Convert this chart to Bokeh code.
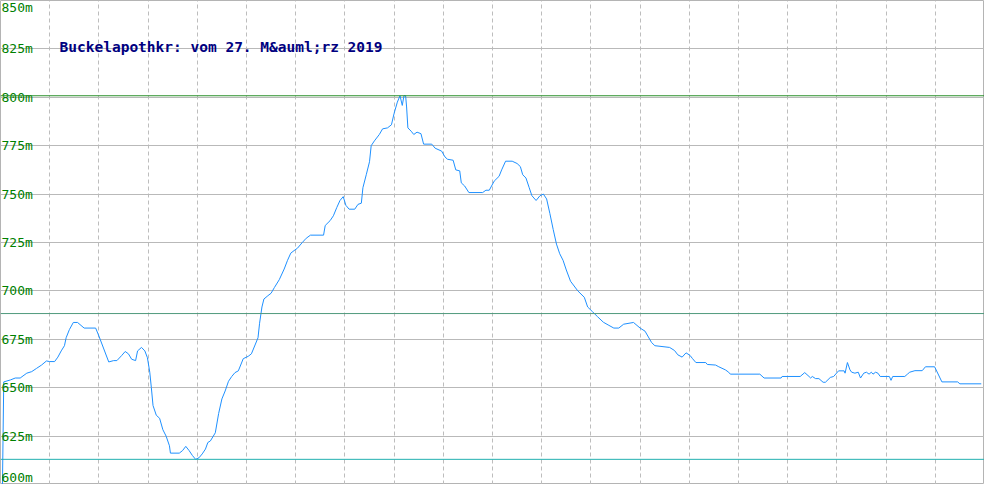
from bokeh.plotting import figure
from bokeh.models import Span, FixedTicker, Label, ColumnDataSource
from bokeh.core.properties import value
from bokeh.embed import file_html
from bokeh.resources import INLINE

# ---- data ----
title_text = "Buckelapothkr: vom 27. M&auml;rz 2019"

distance = [2, 3.3, 10, 15, 20, 26.7, 31.7, 36.7, 41.7, 46.7, 50, 55, 58.3, 61.7, 65, 66.7, 70, 74, 78.3,
            85, 96.7, 100, 105, 110, 115, 118.3, 123.3, 126.7, 130, 133.3, 137.3, 139.3, 143.3, 146.7,
            149.3, 151.7, 153.3, 155, 158.3, 161.7, 165, 168.3, 171.7, 172.7, 181.7, 185, 188.3, 191.7,
            195, 198.3, 201.7, 205, 208.3, 210.7, 213.3, 218.3, 221.7, 225, 228.3, 231.7, 235, 238.3,
            241.7, 246.7, 251.7, 255, 261.7, 263.3, 265.7, 267.7, 271.7, 275, 278.3, 283.3, 288.3, 291.7,
            295, 298.3, 301.7, 306.7, 310.7, 315, 328.3, 330, 335, 338.3, 341.7, 345, 348.3, 351, 354.3,
            360, 363.3, 366.7, 368.3, 371.7, 375, 376.7, 380, 385, 388.3, 393.3, 397.3, 400, 403.3, 406,
            408.3, 410, 411.7, 412.7, 414, 417.3, 420, 423.3, 427.3, 430, 438.3, 441.7, 448.3, 451.7,
            454.3, 460, 462.7, 466.7, 468.3, 471.7, 476, 490, 493.3, 496.7, 501.7, 506.7, 509.3, 513.3,
            520, 525, 528.3, 530.7, 534, 537.3, 540, 544.3, 548.3, 551.7, 555, 558.3, 561.7, 565, 568.3,
            571.7, 575, 579.3, 586.7, 593.3, 596.7, 601.7, 606.7, 612.7, 618.3, 623.3, 628.3, 633.3,
            643.3, 650, 655, 661.7, 665, 680, 685, 688.3, 692.7, 696.7, 700.7, 703.3, 706.7, 716.7,
            718.3, 726.7, 730, 736.7, 740, 741.7, 771.7, 776, 793.3, 794.3, 812.7, 817.3, 821.7, 823.3,
            825, 828.3, 831.7, 836, 838.3, 843.3, 846.7, 851.7, 857.3, 858.3, 860.7, 863.3, 865, 868.3,
            871.7, 874, 877.3, 880, 882.7, 885, 886.7, 889.3, 891.7, 894, 903.3, 905, 906.7, 919, 921.7,
            924, 929.3, 936.7, 940, 949.3, 956.7, 972.7, 975, 996.7]

elevation = [600, 653, 654, 655, 655, 657.5, 658.3, 660, 661.7, 663.8, 663.5, 663.5, 665.8, 669, 671.7,
             675.8, 680, 683.7, 683.7, 680.8, 680.8, 676.7, 670, 663.3, 664, 664, 666.7, 668.7, 667.5,
             664.7, 664, 669, 670.8, 669, 665.5, 658, 650, 640.8, 635.8, 634.2, 628.3, 625, 620, 616.2,
             616.2, 617.5, 619.7, 617.5, 615, 613, 613.8, 615.8, 618.3, 621.7, 622.5, 626.7, 636.7,
             644.2, 648.3, 653.3, 655.8, 657.8, 658.7, 665, 666.2, 667.5, 675.8, 683.3, 691.7, 695.8,
             697.5, 698.8, 701.7, 705.8, 711.3, 715.8, 719.5, 720.8, 722, 725, 727.2, 728.8, 728.8,
             733.8, 736.3, 738.8, 743, 746.7, 748.7, 744.2, 742.2, 742.2, 744.7, 745.3, 753.3, 760,
             766.7, 775, 777.5, 780.8, 783.7, 784.2, 785.8, 791.7, 797.5, 800.8, 795.8, 800.8, 800.8,
             795, 784.2, 782.5, 780.8, 782, 781.2, 775.8, 775.8, 773.7, 772.2, 769.2, 768, 767.5, 762.5,
             762, 755.8, 754.2, 750.8, 750.8, 752, 752, 756.7, 759.2, 762.5, 767, 767, 765.8, 764.2, 760,
             758.3, 753.3, 749.2, 746.7, 749.2, 750, 747.5, 740, 731.7, 724.2, 719.2, 715.8, 710.8, 705,
             700, 696.7, 691.7, 689.2, 686.7, 683.8, 682.2, 680.8, 680.8, 682.8, 683.7, 680.8, 679.2,
             673.3, 671.7, 670.8, 669.2, 667, 665.8, 668, 666.7, 665, 663, 663, 662, 661.7, 660.8, 659.2,
             658, 657, 657, 655, 655, 655.8, 655.8, 657.8, 655.8, 655, 655.8, 654.7, 654.7, 652.8, 652.8,
             655.3, 655.8, 658.7, 658.7, 657.5, 663, 659.2, 658, 657.5, 658, 655, 657.5, 658, 657, 658,
             657, 658, 657.5, 655.8, 655.8, 653.8, 655.8, 655.8, 657, 658, 658.8, 658.8, 660.8, 660.8,
             653, 653, 652, 652]

max_elev = 800.8
avg_elev = 688.3
min_elev = 613.0

y_ticks = [600, 625, 650, 675, 700, 725, 750, 775, 800, 825, 850]
y_tick_labels = [f"{t}m" for t in y_ticks]
x_grid_ticks = [50, 100, 150, 200, 250, 300, 350, 400, 450, 500, 550, 600, 650, 700, 750, 800, 850, 900, 950]

Y0, Y1 = 600, 850
X0, X1 = 0, 1000

p = figure(width=984, height=484, x_range=(X0, X1), y_range=(Y0, Y1),
           output_backend="svg", toolbar_location=None,
           x_axis_location=None, y_axis_location=None, min_border=0,
           background_fill_color="white", border_fill_color="white")
p.outline_line_color = "#b4b4b4"

p.ygrid.ticker = FixedTicker(ticks=y_ticks)
p.ygrid.grid_line_color = "#b9b9b9"
p.ygrid.grid_line_width = 1
p.xgrid.ticker = FixedTicker(ticks=x_grid_ticks)
p.xgrid.grid_line_color = "#bdbdbd"
p.xgrid.grid_line_dash = "4 3"
p.xgrid.grid_line_width = 1

p.add_layout(Span(location=max_elev, dimension="width", line_color="#2a8f2a", line_width=1))
p.add_layout(Span(location=avg_elev, dimension="width", line_color="#4f9a7c", line_width=1))
p.add_layout(Span(location=min_elev, dimension="width", line_color="#22b0b0", line_width=1))

p.line(distance, elevation, line_color="#1e90ff", line_width=1)

# y tick labels drawn inside the plot
pad = 3.5
label_y = [min(max(t, Y0 + pad), Y1 - pad) for t in y_ticks]
src = ColumnDataSource(dict(x=[X0] * len(y_ticks), y=label_y, t=y_tick_labels))
p.text(x="x", y="y", text="t", source=src, x_offset=1,
       text_font=value("DejaVu Sans Mono"), text_font_size="13px",
       text_color="#008000", text_baseline="middle", text_align="left")

p.add_layout(Label(x=60, y=826, text=title_text, text_font="DejaVu Sans Mono",
                   text_font_size="14.5px", text_font_style="bold", text_color="#000080",
                   text_baseline="middle", text_align="left"))

open("out.html", "w").write(file_html(p, INLINE))
